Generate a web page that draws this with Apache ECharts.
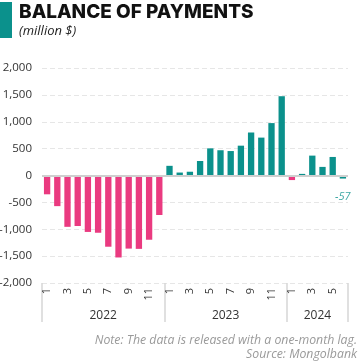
<!DOCTYPE html>
<html>
<head>
<meta charset="utf-8">
<script src="https://cdn.jsdelivr.net/npm/echarts@6/dist/echarts.min.js"></script>
<style>
  html, body { margin: 0; padding: 0; background: #fff; }
  #chart { width: 360px; height: 364px; }
</style>
</head>
<body>
<div id="chart"></div>
<script>
// Monthly balance of payments, million USD
const months = ['1','2','3','4','5','6','7','8','9','10','11','12',
                '1','2','3','4','5','6','7','8','9','10','11','12',
                '1','2','3','4','5','6'];
const values2022 = [-350, -570, -955, -940, -1050, -1065, -1325, -1525, -1360, -1365, -1195, -735];
const values2023 = [180, 55, 70, 270, 505, 470, 455, 555, 800, 705, 975, 1475];
const values2024 = [-85, 30, 370, 160, 345, -57];
// Year captions sit on the boundaries between month bands (31 edges for 30 months)
const yearEdges = ['', '', '', '', '', '', '2022', '', '', '', '', '', '',
                   '', '', '', '', '', '2023', '', '', '', '', '', '',
                   '', '', '2024', '', '', ''];
const yearBreaks = [0, 12, 24, 30];
const yTicks = { min: -2000, max: 2000, step: 500 };

const PINK = '#EA3A80';
const TEAL = '#0B918C';

const values = values2022.concat(values2023, values2024);
const latest = values.length - 1;

const barData = values.map((v, i) => {
  const item = {
    value: v,
    itemStyle: { color: (v < 0 && i !== latest) ? PINK : TEAL }
  };
  if (i === latest) {
    item.label = {
      show: true,
      position: 'bottom',
      distance: 13,
      color: '#3FA9A5',
      fontStyle: 'italic',
      fontSize: 11,
      fontFamily: 'Open Sans'
    };
  }
  return item;
});

const chart = echarts.init(document.getElementById('chart'), null, { renderer: 'canvas' });

chart.setOption({
  animation: false,
  backgroundColor: '#fff',
  textStyle: { fontFamily: 'Open Sans' },
  graphic: [
    { type: 'rect', left: 0, top: 2, shape: { width: 12, height: 36 }, style: { fill: TEAL } },
    { type: 'text', left: 19, top: 3,
      style: { text: 'BALANCE OF PAYMENTS', fill: '#111', fontSize: 19, fontWeight: 800,
               fontFamily: 'Inter' } },
    { type: 'text', left: 19, top: 25,
      style: { text: '(million $)', fill: '#222', fontSize: 13, fontStyle: 'italic',
               fontFamily: 'Open Sans' } },
    { type: 'text', right: 3, top: 334,
      style: { text: 'Note: The data is released with a one-month lag.', fill: '#9a9a9a',
               fontSize: 12.3, fontStyle: 'italic', fontFamily: 'Open Sans', align: 'right' } },
    { type: 'text', right: 3, top: 348,
      style: { text: 'Source: Mongolbank', fill: '#9a9a9a',
               fontSize: 12.3, fontStyle: 'italic', fontFamily: 'Open Sans', align: 'right' } }
  ],
  grid: { left: 42, right: 12, top: 68, bottom: 81, containLabel: false, outerBoundsMode: 'none' },
  xAxis: [
    {
      type: 'category',
      data: months,
      position: 'bottom',
      axisLine: { show: false, onZero: false },
      axisTick: { show: false },
      axisLabel: {
        rotate: 90,
        interval: (i, v) => Number(v) % 2 === 1,
        color: '#333',
        fontSize: 11,
        margin: 5,
        fontFamily: 'Open Sans'
      },
      splitLine: { show: false }
    },
    {
      type: 'category',
      data: yearEdges,
      boundaryGap: false,
      position: 'bottom',
      axisLine: { show: false, onZero: false },
      axisTick: {
        show: true,
        inside: false,
        length: 39,
        interval: (i) => yearBreaks.indexOf(i) !== -1,
        lineStyle: { color: '#d6d6d6', width: 1.5 }
      },
      axisLabel: {
        interval: 0,
        color: '#333',
        fontSize: 12,
        margin: 27,
        fontFamily: 'Open Sans'
      },
      splitLine: { show: false }
    }
  ],
  yAxis: {
    type: 'value',
    min: yTicks.min,
    max: yTicks.max,
    interval: yTicks.step,
    axisLine: { show: false },
    axisTick: { show: false },
    axisLabel: {
      color: '#333',
      fontSize: 11.5,
      margin: 10,
      fontFamily: 'Open Sans',
      formatter: (v) => v.toLocaleString('en-US')
    },
    splitLine: { lineStyle: { color: '#e6e6e6', type: [5, 3], width: 1 } }
  },
  series: [
    {
      type: 'bar',
      xAxisIndex: 0,
      data: barData,
      barWidth: '62%',
      markLine: {
        silent: true,
        symbol: 'none',
        label: { show: false },
        lineStyle: { color: '#cfcfcf', width: 2, type: 'solid' },
        data: [{ yAxis: 0 }]
      }
    }
  ]
});
</script>
</body>
</html>
